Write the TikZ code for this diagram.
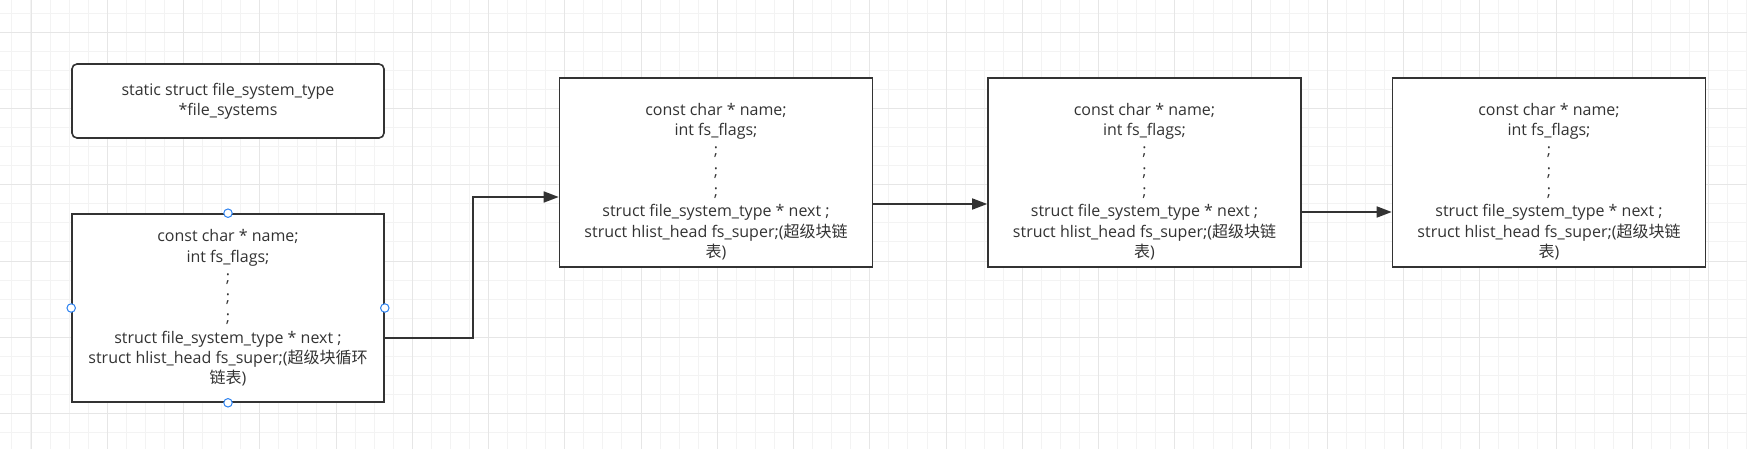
\documentclass[tikz,border=0pt]{standalone}
\usepackage{fontspec}
\setmainfont{Open Sans}
\newfontfamily\cjk{Noto Sans CJK SC}
\usepackage{tikz}
\usetikzlibrary{arrows.meta}

\definecolor{linegray}{HTML}{333333}
\definecolor{textgray}{HTML}{333333}
\definecolor{handleblue}{HTML}{2D82F0}
\definecolor{gridminor}{HTML}{F3F3F3}
\definecolor{gridmajor}{HTML}{E6E6E6}

\begin{document}
\begin{tikzpicture}[x=1pt, y=-1pt,
    fsbox/.style={draw=linegray, line width=1.6pt, fill=white, inner sep=0pt,
      minimum width=313pt, minimum height=189pt},
    fstext/.style={text=textgray, align=center, inner sep=0pt,
      font=\fontsize{16}{20.3}\selectfont},
    link/.style={draw=linegray, line width=1.6pt, -{Triangle[length=15pt,width=11pt]}},
    handle/.style={circle, draw=handleblue, fill=white, line width=1pt,
      minimum size=8.5pt, inner sep=0pt}]

    % Background grid
    \fill[white] (0,0) rectangle (1747,449);
    \useasboundingbox (0,0) rectangle (1747,449);
    \foreach \i in {0,...,91}
      \draw[gridminor, line width=1pt] ({11.9+\i*19.065},0) -- ({11.9+\i*19.065},449);
    \foreach \i in {0,...,23}
      \draw[gridminor, line width=1pt] (0,{13.2+\i*19.065}) -- (1747,{13.2+\i*19.065});
    \foreach \i in {0,...,22}
      \draw[gridmajor, line width=1pt] ({31+\i*76.26},0) -- ({31+\i*76.26},449);
    \foreach \i in {0,...,5}
      \draw[gridmajor, line width=1pt] (0,{32.3+\i*76.26}) -- (1747,{32.3+\i*76.26});

    % Head pointer
    \node[draw=linegray, line width=1.6pt, fill=white, rounded corners=5pt,
      minimum width=312pt, minimum height=74pt, fstext] (head) at (228,101)
      {static struct file\_system\_type\\*file\_systems};

    % First entry (selected)
    \node[fsbox, minimum width=312pt, minimum height=188pt, fstext] (fs0) at (228,308)
      {const char * name;\\int fs\_flags;\\;\\;\\;\\
       struct file\_system\_type * next ;\\
       struct hlist\_head fs\_super;({\cjk 超级块循环}\\{\cjk 链表})};
    \foreach \a in {north,south,east,west}
      \node[handle] (fs0-\a) at (fs0.\a) {};

    % Further entries
    \node[fsbox, label={[fstext, yshift=-9pt]center:{const char * name;\\int fs\_flags;\\;\\;\\;\\
       struct file\_system\_type * next ;\\
       struct hlist\_head fs\_super;({\cjk 超级块链}\\{\cjk 表})}}] (fs1) at (716,172.5) {};
    \node[fsbox, label={[fstext, yshift=-9pt]center:{const char * name;\\int fs\_flags;\\;\\;\\;\\
       struct file\_system\_type * next ;\\
       struct hlist\_head fs\_super;({\cjk 超级块链}\\{\cjk 表})}}] (fs2) at (1144.5,172.5) {};
    \node[fsbox, label={[fstext, yshift=-9pt]center:{const char * name;\\int fs\_flags;\\;\\;\\;\\
       struct file\_system\_type * next ;\\
       struct hlist\_head fs\_super;({\cjk 超级块链}\\{\cjk 表})}}] (fs3) at (1549,172.5) {};

    % next links
    \draw[link] ([yshift=-30pt]fs0.east) -- ++(88,0) |- ([yshift=-24.5pt]fs1.west);
    \draw[link] ([yshift=-31.5pt]fs1.east) -- ([yshift=-31.5pt]fs2.west);
    \draw[link] ([yshift=-39.5pt]fs2.east) -- ([yshift=-39.5pt]fs3.west);
  \end{tikzpicture}
\end{document}
